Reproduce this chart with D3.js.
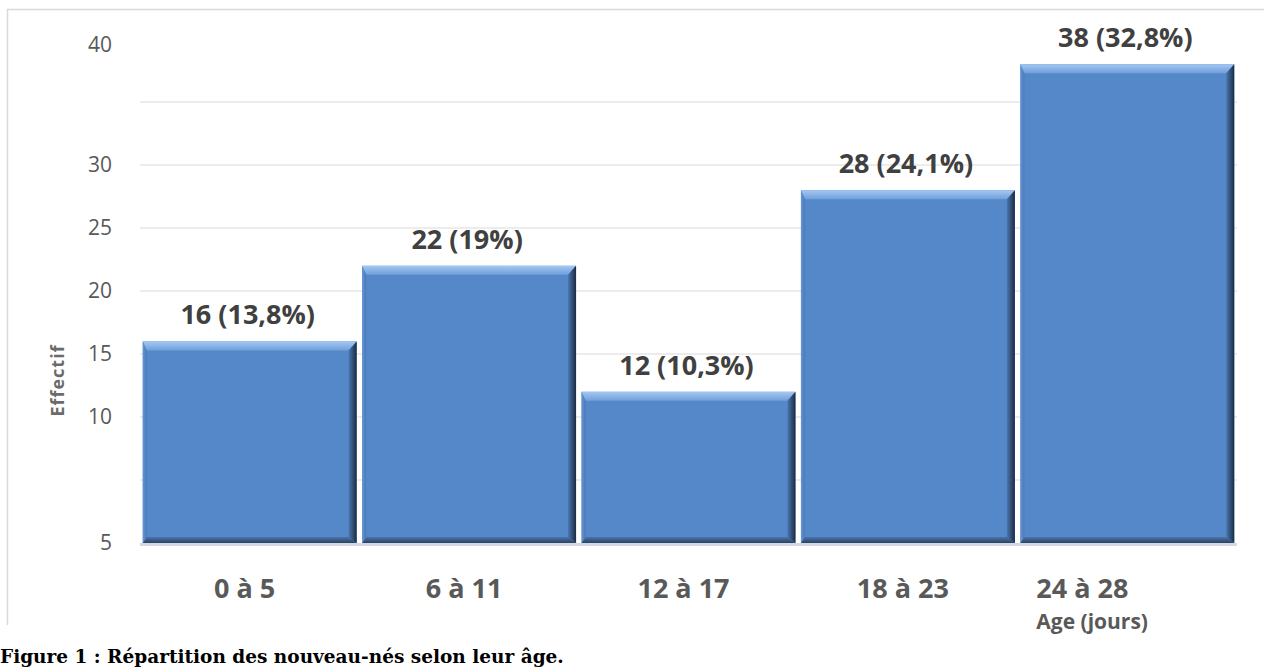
<!DOCTYPE html>
<html>
<head>
<meta charset="utf-8">
<script src="https://cdn.jsdelivr.net/npm/d3@7"></script>
<style>
  body { margin: 0; background: #fff; }
  svg { display: block; }
</style>
</head>
<body>
<svg id="chart" width="1264" height="671"></svg>
<script>
// données
const categories = ["0 à 5", "6 à 11", "12 à 17", "18 à 23", "24 à 28"];
const effectifs = [16, 22, 12, 28, 38];
const pourcentages = ["13,8%", "19%", "10,3%", "24,1%", "32,8%"];
// graduations de l'axe Y (les libellés de la figure ne suivent pas exactement les valeurs)
const tickValues = [0, 10, 15, 20, 25, 30, 40];
const tickLabels = ["5", "10", "15", "20", "25", "30", "40"];
const gridValues = [0, 5, 10, 15, 20, 25, 30, 35];

const svg = d3.select("#chart");
const margin = { top: 39, right: 27, bottom: 128, left: 140 };
const width = 1264, height = 671;

const x = d3.scaleBand()
  .domain(categories)
  .range([margin.left, width - margin.right])
  .paddingInner(0.025)
  .paddingOuter(0.0125);

const y = d3.scaleLinear()
  .domain([0, 40])
  .range([height - margin.bottom, margin.top]);

// cadre
svg.append("path")
  .attr("d", `M1264,9.5 H7.5 V625`)
  .attr("fill", "none")
  .attr("stroke", "#d9d9d9")
  .attr("stroke-width", 1.5);

// dégradés pour l'effet biseauté
const defs = svg.append("defs");
function grad(id, x2, y2, c1, c2) {
  const g = defs.append("linearGradient").attr("id", id)
    .attr("x1", 0).attr("y1", 0).attr("x2", x2).attr("y2", y2);
  g.append("stop").attr("offset", 0).attr("stop-color", c1);
  g.append("stop").attr("offset", 1).attr("stop-color", c2);
}
grad("gTop", 0, 1, "#a4c8f2", "#6f9fdb");
grad("gRight", 1, 0, "#4a76b0", "#1b2b42");
grad("gBottom", 0, 1, "#4a74ab", "#2b4262");
grad("gLeft", 1, 0, "#6796d4", "#4a78b6");

// grille
svg.append("g")
  .selectAll("line")
  .data(gridValues.filter(d => d > 0))
  .enter().append("line")
  .attr("x1", margin.left)
  .attr("x2", width - margin.right)
  .attr("y1", d => y(d))
  .attr("y2", d => y(d))
  .attr("stroke", "#d9d9d9")
  .attr("stroke-width", 1.2);

// axe Y
const yAxis = svg.append("g")
  .attr("transform", `translate(${margin.left},0)`)
  .call(d3.axisLeft(y)
    .tickValues(tickValues)
    .tickSize(0)
    .tickPadding(28)
    .tickFormat((d, i) => tickLabels[i]));
yAxis.select(".domain").remove();
yAxis.selectAll("text")
  .style("font-family", "'Open Sans', sans-serif")
  .style("font-size", "21px")
  .attr("fill", "#595959");
yAxis.selectAll(".tick")
  .filter(d => d === 40)
  .select("text")
  .attr("dy", "0.6em");

svg.append("text")
  .attr("transform", `translate(64,${y(12.9)}) rotate(-90)`)
  .attr("text-anchor", "middle")
  .style("font-family", "'Open Sans', sans-serif")
  .style("font-size", "18px")
  .style("font-weight", "bold")
  .style("letter-spacing", "1px")
  .attr("fill", "#6b6b6b")
  .text("Effectif");

// barres
const bev = { t: 9, r: 8, b: 6, l: 4 };
const bars = svg.append("g")
  .selectAll("g")
  .data(effectifs)
  .enter().append("g")
  .attr("transform", (d, i) => `translate(${x(categories[i])},${y(d)})`);

bars.each(function(d) {
  const g = d3.select(this);
  const w = x.bandwidth(), h = y(0) - y(d);
  g.append("rect").attr("width", w).attr("height", h).attr("fill", "#5588c9");
  g.append("polygon").attr("fill", "url(#gTop)")
    .attr("points", `0,0 ${w},0 ${w - bev.r},${bev.t} ${bev.l},${bev.t}`);
  g.append("polygon").attr("fill", "url(#gRight)")
    .attr("points", `${w},0 ${w},${h} ${w - bev.r},${h - bev.b} ${w - bev.r},${bev.t}`);
  g.append("polygon").attr("fill", "url(#gBottom)")
    .attr("points", `0,${h} ${w},${h} ${w - bev.r},${h - bev.b} ${bev.l},${h - bev.b}`);
  g.append("polygon").attr("fill", "url(#gLeft)")
    .attr("points", `0,0 ${bev.l},${bev.t} ${bev.l},${h - bev.b} 0,${h}`);
});

// ligne de base
svg.append("line")
  .attr("x1", margin.left)
  .attr("x2", width - margin.right)
  .attr("y1", y(0) + 1.5)
  .attr("y2", y(0) + 1.5)
  .attr("stroke", "#d4d8e0")
  .attr("stroke-width", 3);

// étiquettes de valeurs
svg.append("g")
  .selectAll("text")
  .data(effectifs)
  .enter().append("text")
  .attr("x", (d, i) => x(categories[i]) + x.bandwidth() / 2 - 2)
  .attr("y", d => y(d) - 17)
  .attr("text-anchor", "middle")
  .style("font-family", "'Open Sans', sans-serif")
  .style("font-size", "27px")
  .style("font-weight", "bold")
  .attr("fill", "#404040")
  .text((d, i) => `${d} (${pourcentages[i]})`);

// axe X
const last = categories.length - 1;
svg.append("g")
  .selectAll("text")
  .data(categories)
  .enter().append("text")
  .attr("x", (d, i) => i === last ? x(d) + 16 : x(d) + x.bandwidth() / 2 - 5)
  .attr("y", 598)
  .attr("text-anchor", (d, i) => i === last ? "start" : "middle")
  .style("font-family", "'Open Sans', sans-serif")
  .style("font-size", "27px")
  .style("font-weight", "bold")
  .attr("fill", "#595959")
  .text(d => d);

svg.append("text")
  .attr("x", x(categories[last]) + 16)
  .attr("y", 629)
  .style("font-family", "'Open Sans', sans-serif")
  .style("font-size", "21px")
  .style("font-weight", "bold")
  .attr("fill", "#595959")
  .text("Age (jours)");

// légende de la figure
svg.append("text")
  .attr("x", 0)
  .attr("y", 663)
  .style("font-family", "'DejaVu Serif', serif")
  .style("font-size", "18.5px")
  .style("font-weight", "bold")
  .attr("fill", "#000")
  .text("Figure 1 : Répartition des nouveau-nés selon leur âge.");
</script>
</body>
</html>
